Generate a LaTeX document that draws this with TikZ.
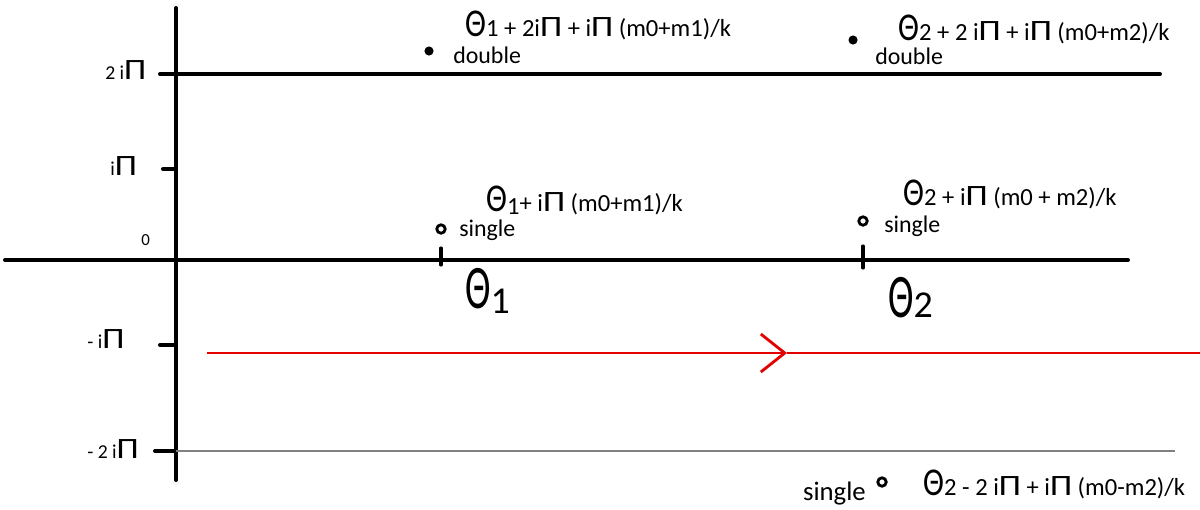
\documentclass[tikz,border=0pt]{standalone}
\usepackage{fontspec}
\setmainfont{Carlito}
\usepackage{tikz}
\usetikzlibrary{positioning, arrows.meta, calc}

\newcommand{\Th}[1]{{\fontsize{28}{28}\selectfont\scalebox{0.8}[1]{Θ}}#1}
\newcommand{\ipi}{i{\fontsize{21}{21}\selectfont\scalebox{1.2}[1]{Π}}}

\begin{document}
\begin{tikzpicture}[
  x=0.025cm, y=-0.025cm,
  font=\fontsize{17.5}{19}\selectfont,
  axis/.style={line width=2.8pt, line cap=round},
  tick/.style={line width=2.8pt, line cap=round},
  formula/.style={anchor=base west, inner sep=0pt},
  note/.style={anchor=base west, inner sep=0pt, font=\fontsize{17}{18}\selectfont},
  axlbl/.style={anchor=base west, inner sep=0pt, font=\fontsize{14}{16}\selectfont},
  bigth/.style={anchor=base west, inner sep=0pt, font=\fontsize{44}{46}\selectfont},
  dot/.style={circle, fill, inner sep=0pt, minimum size=6.5pt},
  ring/.style={circle, draw, line width=2pt, inner sep=0pt, minimum size=6pt},
  contour/.style={red!90!black, line width=2pt}
]
\useasboundingbox (0,0) rectangle (1200,509);

% axes
\coordinate (ytop) at (176,8);
\coordinate (ybot) at (176,480);
\coordinate (xl) at (5,260);
\coordinate (xr) at (1128,260);
\draw[axis] (ytop) -- (ybot);
\draw[axis] (xl) -- (xr);

\coordinate (tp2) at (160,74);
\coordinate (lp2) at (1160,74);
\draw[axis] (tp2) -- (lp2);
\coordinate (tp1) at (163,169);
\coordinate (ap1) at (176,169);
\draw[tick] (tp1) -- (ap1);
\coordinate (tm1) at (160,345);
\coordinate (am1) at (176,345);
\draw[tick] (tm1) -- (am1);
\coordinate (tm2) at (155,451);
\coordinate (am2) at (176,451);
\coordinate (lm2) at (1175,451);
\draw[tick] (tm2) -- (am2);
\draw[gray, line width=1pt] (am2) -- (lm2);

\node[axlbl] (l2) at (105,79) {2 \ipi};
\node[axlbl] (l1) at (110,175) {\ipi};
\node[axlbl, font=\fontsize{12}{14}\selectfont] (l0) at (141,245) {0};
\node[axlbl] (lm1) at (87,348) {- \ipi};
\node[axlbl] (lm2) at (87,458) {- 2 \ipi};

% theta marks
\coordinate (th1a) at (441,248);
\coordinate (th1b) at (441,265);
\draw[tick, line width=2.2pt] (th1a) -- (th1b);
\coordinate (th2a) at (863,246);
\coordinate (th2b) at (863,268);
\draw[tick, line width=2.2pt] (th2a) -- (th2b);
\node[bigth] (th1) at (465,308) {\scalebox{0.62}[1]{Θ}\raisebox{-0.2ex}{\fontsize{27}{27}\selectfont 1}};
\node[bigth] (th2) at (888,317) {\scalebox{0.62}[1]{Θ}\fontsize{27}{27}\selectfont 2};

% contour
\coordinate (rs) at (207,353);
\coordinate (rm) at (787,353);
\coordinate (re) at (1200,353);
\draw[contour, -{Straight Barb[length=17pt, width=27pt, line width=2pt]}] (rs) -- (rm);
\draw[contour] (rm) -- (re);

% poles
\node[dot] (p1) at (429,51) {};
\node[note] (n1) at (453,63) {double};
\node[formula] (f1) at (465,36) {\Th{1 + 2\ipi{} + \ipi{} (m0+m1)/k}};

\node[dot] (p2) at (853,40) {};
\node[note] (n2) at (875,64) {double};
\node[formula] (f2) at (898,40) {\Th{2 + 2 \ipi{} + \ipi{} (m0+m2)/k}};

\node[ring] (p3) at (441,229) {};
\node[note] (n3) at (459,236) {single};
\node[formula] (f3) at (486,211) {\Th{\raisebox{-0.3ex}{1}+ \ipi{} (m0+m1)/k}};

\node[ring] (p4) at (863,221) {};
\node[note] (n4) at (884,232) {single};
\node[formula] (f4) at (903,205) {\Th{2 + \ipi{} (m0 + m2)/k}};

\node[ring] (p5) at (882,482) {};
\node[note, anchor=base east, font=\fontsize{19}{20}\selectfont] (n5) at (866,500) {single};
\node[formula] (f5) at (923,495) {\Th{2 - 2 \ipi{} + \ipi{} (m0-m2)/k}};
\end{tikzpicture}
\end{document}
